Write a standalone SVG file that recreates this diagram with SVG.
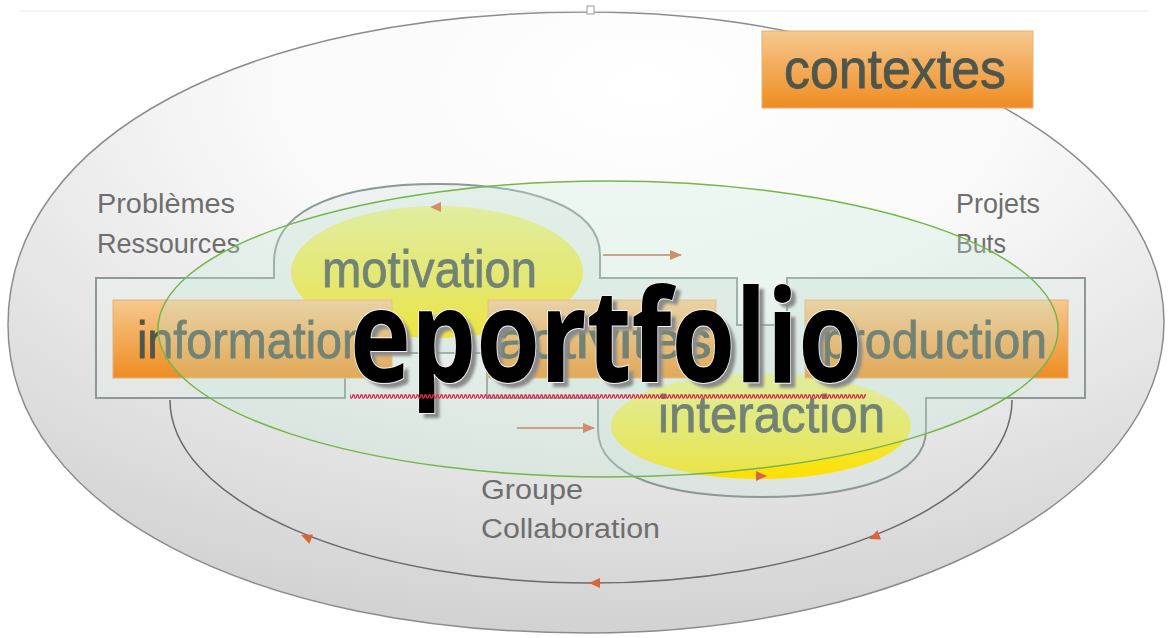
<svg xmlns="http://www.w3.org/2000/svg" width="1171" height="638" viewBox="0 0 1171 638">
<defs>
<radialGradient id="gOuter" cx="0.55" cy="0.12" r="0.95">
<stop offset="0" stop-color="#ffffff"/>
<stop offset="0.35" stop-color="#f9f9f9"/>
<stop offset="1" stop-color="#cdcdcd"/>
</radialGradient>
<linearGradient id="gFrame" x1="0" y1="0" x2="0" y2="1">
<stop offset="0" stop-color="#eef2f1"/>
<stop offset="1" stop-color="#dde3e1"/>
</linearGradient>
<linearGradient id="gOrange" x1="0" y1="0" x2="0" y2="1">
<stop offset="0" stop-color="#f6c890"/>
<stop offset="0.6" stop-color="#f2a44c"/>
<stop offset="1" stop-color="#ee8c22"/>
</linearGradient>
<linearGradient id="gYellow" x1="0" y1="0" x2="0" y2="1">
<stop offset="0" stop-color="#ecee8a"/>
<stop offset="0.6" stop-color="#f2e640"/>
<stop offset="1" stop-color="#fde000"/>
</linearGradient>
<pattern id="wave" x="0" y="394" width="4" height="5" patternUnits="userSpaceOnUse">
<path d="M0,4 L1,1 L2,1 L3,4 L4,4" fill="none" stroke="#d8304c" stroke-width="1.3"/>
</pattern>
<filter id="blur" x="-5%" y="-5%" width="110%" height="110%">
<feGaussianBlur stdDeviation="1.6"/>
</filter>
<path id="ah" d="M0,0 L-11,-5 L-11,5 Z"/>
<marker id="arr" markerWidth="12" markerHeight="10" refX="11" refY="5" orient="auto" markerUnits="userSpaceOnUse">
<path d="M0,0 L12,5 L0,10 Z" fill="#cf6a3c"/>
</marker>
</defs>
<style>
.lbl{font-family:"Liberation Sans",Arial,sans-serif;fill:#4e564c;font-size:52px;stroke:#4e564c;stroke-width:0.8px;}
.side{font-family:"Liberation Sans",Arial,sans-serif;fill:#6e6e6e;font-size:27px;}
.box{fill:url(#gOrange);stroke:#e8b070;stroke-width:1;}
.yel{fill:url(#gYellow);}
.head{fill:#d8663c;}
.big{font-family:"Open Sans","DejaVu Sans",sans-serif;font-weight:700;font-size:130px;}
</style>

<g id="contexte-frame">
<path d="M588,12 C906,12 1164,151 1164,322 C1164,494 906,633 588,633 C255,633 8,510 8,325 C8,135 250,12 588,12 Z" fill="url(#gOuter)" stroke="#8c8c8c" stroke-width="1.5"/>
<line x1="20" y1="11" x2="1150" y2="11" stroke="#ececec" stroke-width="1"/>
<rect x="587" y="6" width="7" height="8" fill="#ffffff" stroke="#9a9a9a" stroke-width="1"/>
</g>

<g id="connectors">
<path d="M170,400 A421,183 0 0 0 1012,400" fill="none" stroke="#6a6a6a" stroke-width="1.5"/>
</g>

<g id="frame">
<path d="M96,278 H274 V262 C274,205 350,184 437,184 C525,184 600,205 600,255 V278 H737 V325 H787 V278 H1085 V398 H926 V430 C926,478 850,497 762,497 C672,497 598,478 598,430 V398 H487 V353 H345 V398 H96 Z" fill="url(#gFrame)" stroke="#8d9898" stroke-width="2"/>
</g>

<g id="motivation">
<ellipse cx="437" cy="272" rx="146" ry="66" class="yel"/>
<text x="322" y="287" class="lbl" textLength="215" lengthAdjust="spacingAndGlyphs">motivation</text>
</g>

<g id="interaction">
<ellipse cx="761" cy="426" rx="150" ry="53" class="yel"/>
</g>

<g id="information">
<rect x="113" y="300" width="279" height="78" class="box"/>
<text x="137" y="358" class="lbl" textLength="231" lengthAdjust="spacingAndGlyphs">information</text>
</g>

<g id="activites">
<rect x="488" y="300" width="228" height="78" class="box"/>
<text x="496" y="358" class="lbl" textLength="216" lengthAdjust="spacingAndGlyphs">activités</text>
</g>

<g id="production">
<rect x="805" y="300" width="263" height="78" class="box"/>
<text x="822" y="358" class="lbl" textLength="225" lengthAdjust="spacingAndGlyphs">production</text>
</g>

<g id="interaction-label">
<text x="658" y="432" class="lbl" textLength="227" lengthAdjust="spacingAndGlyphs">interaction</text>
</g>

<g id="connector-arrows">
<line x1="603" y1="255" x2="681" y2="255" stroke="#c4886a" stroke-width="2" marker-end="url(#arr)"/>
<line x1="517" y1="428" x2="594" y2="428" stroke="#c4886a" stroke-width="2" marker-end="url(#arr)"/>
<use href="#ah" class="head" transform="translate(430,207) rotate(180)"/>
<use href="#ah" class="head" transform="translate(767,476)"/>
<use href="#ah" class="head" transform="translate(301,535) rotate(201.7)"/>
<use href="#ah" class="head" transform="translate(589,583) rotate(180)"/>
<use href="#ah" class="head" transform="translate(869,539) rotate(158.3)"/>
</g>

<g id="contextes">
<rect x="762" y="31" width="271" height="77" class="box"/>
<text x="784" y="88" class="lbl" style="font-size:56px" textLength="222" lengthAdjust="spacingAndGlyphs">contextes</text>
</g>

<g id="labels">
<text x="97" y="213" class="side" textLength="138" lengthAdjust="spacingAndGlyphs">Problèmes</text>
<text x="97" y="253" class="side" textLength="143" lengthAdjust="spacingAndGlyphs">Ressources</text>
<text x="956" y="213" class="side" textLength="84" lengthAdjust="spacingAndGlyphs">Projets</text>
<text x="956" y="253" class="side" textLength="50" lengthAdjust="spacingAndGlyphs">Buts</text>
<text x="481" y="499" class="side" textLength="102" lengthAdjust="spacingAndGlyphs">Groupe</text>
<text x="481" y="538" class="side" textLength="179" lengthAdjust="spacingAndGlyphs">Collaboration</text>
</g>

<g id="eportfolio">
<ellipse cx="608" cy="329" rx="450" ry="148" fill="#c6ead6" fill-opacity="0.3" stroke="#74b64a" stroke-width="1.5"/>
<text x="355" y="387" class="big" fill="#8a8a8a" filter="url(#blur)" textLength="512" lengthAdjust="spacingAndGlyphs">eportfolio</text>
<text x="350" y="382" class="big" fill="#000000" stroke="#f2f2f2" stroke-width="2" paint-order="stroke" textLength="512" lengthAdjust="spacingAndGlyphs">eportfolio</text>
<rect x="350" y="394" width="516" height="5" fill="url(#wave)"/>
</g>
</svg>
